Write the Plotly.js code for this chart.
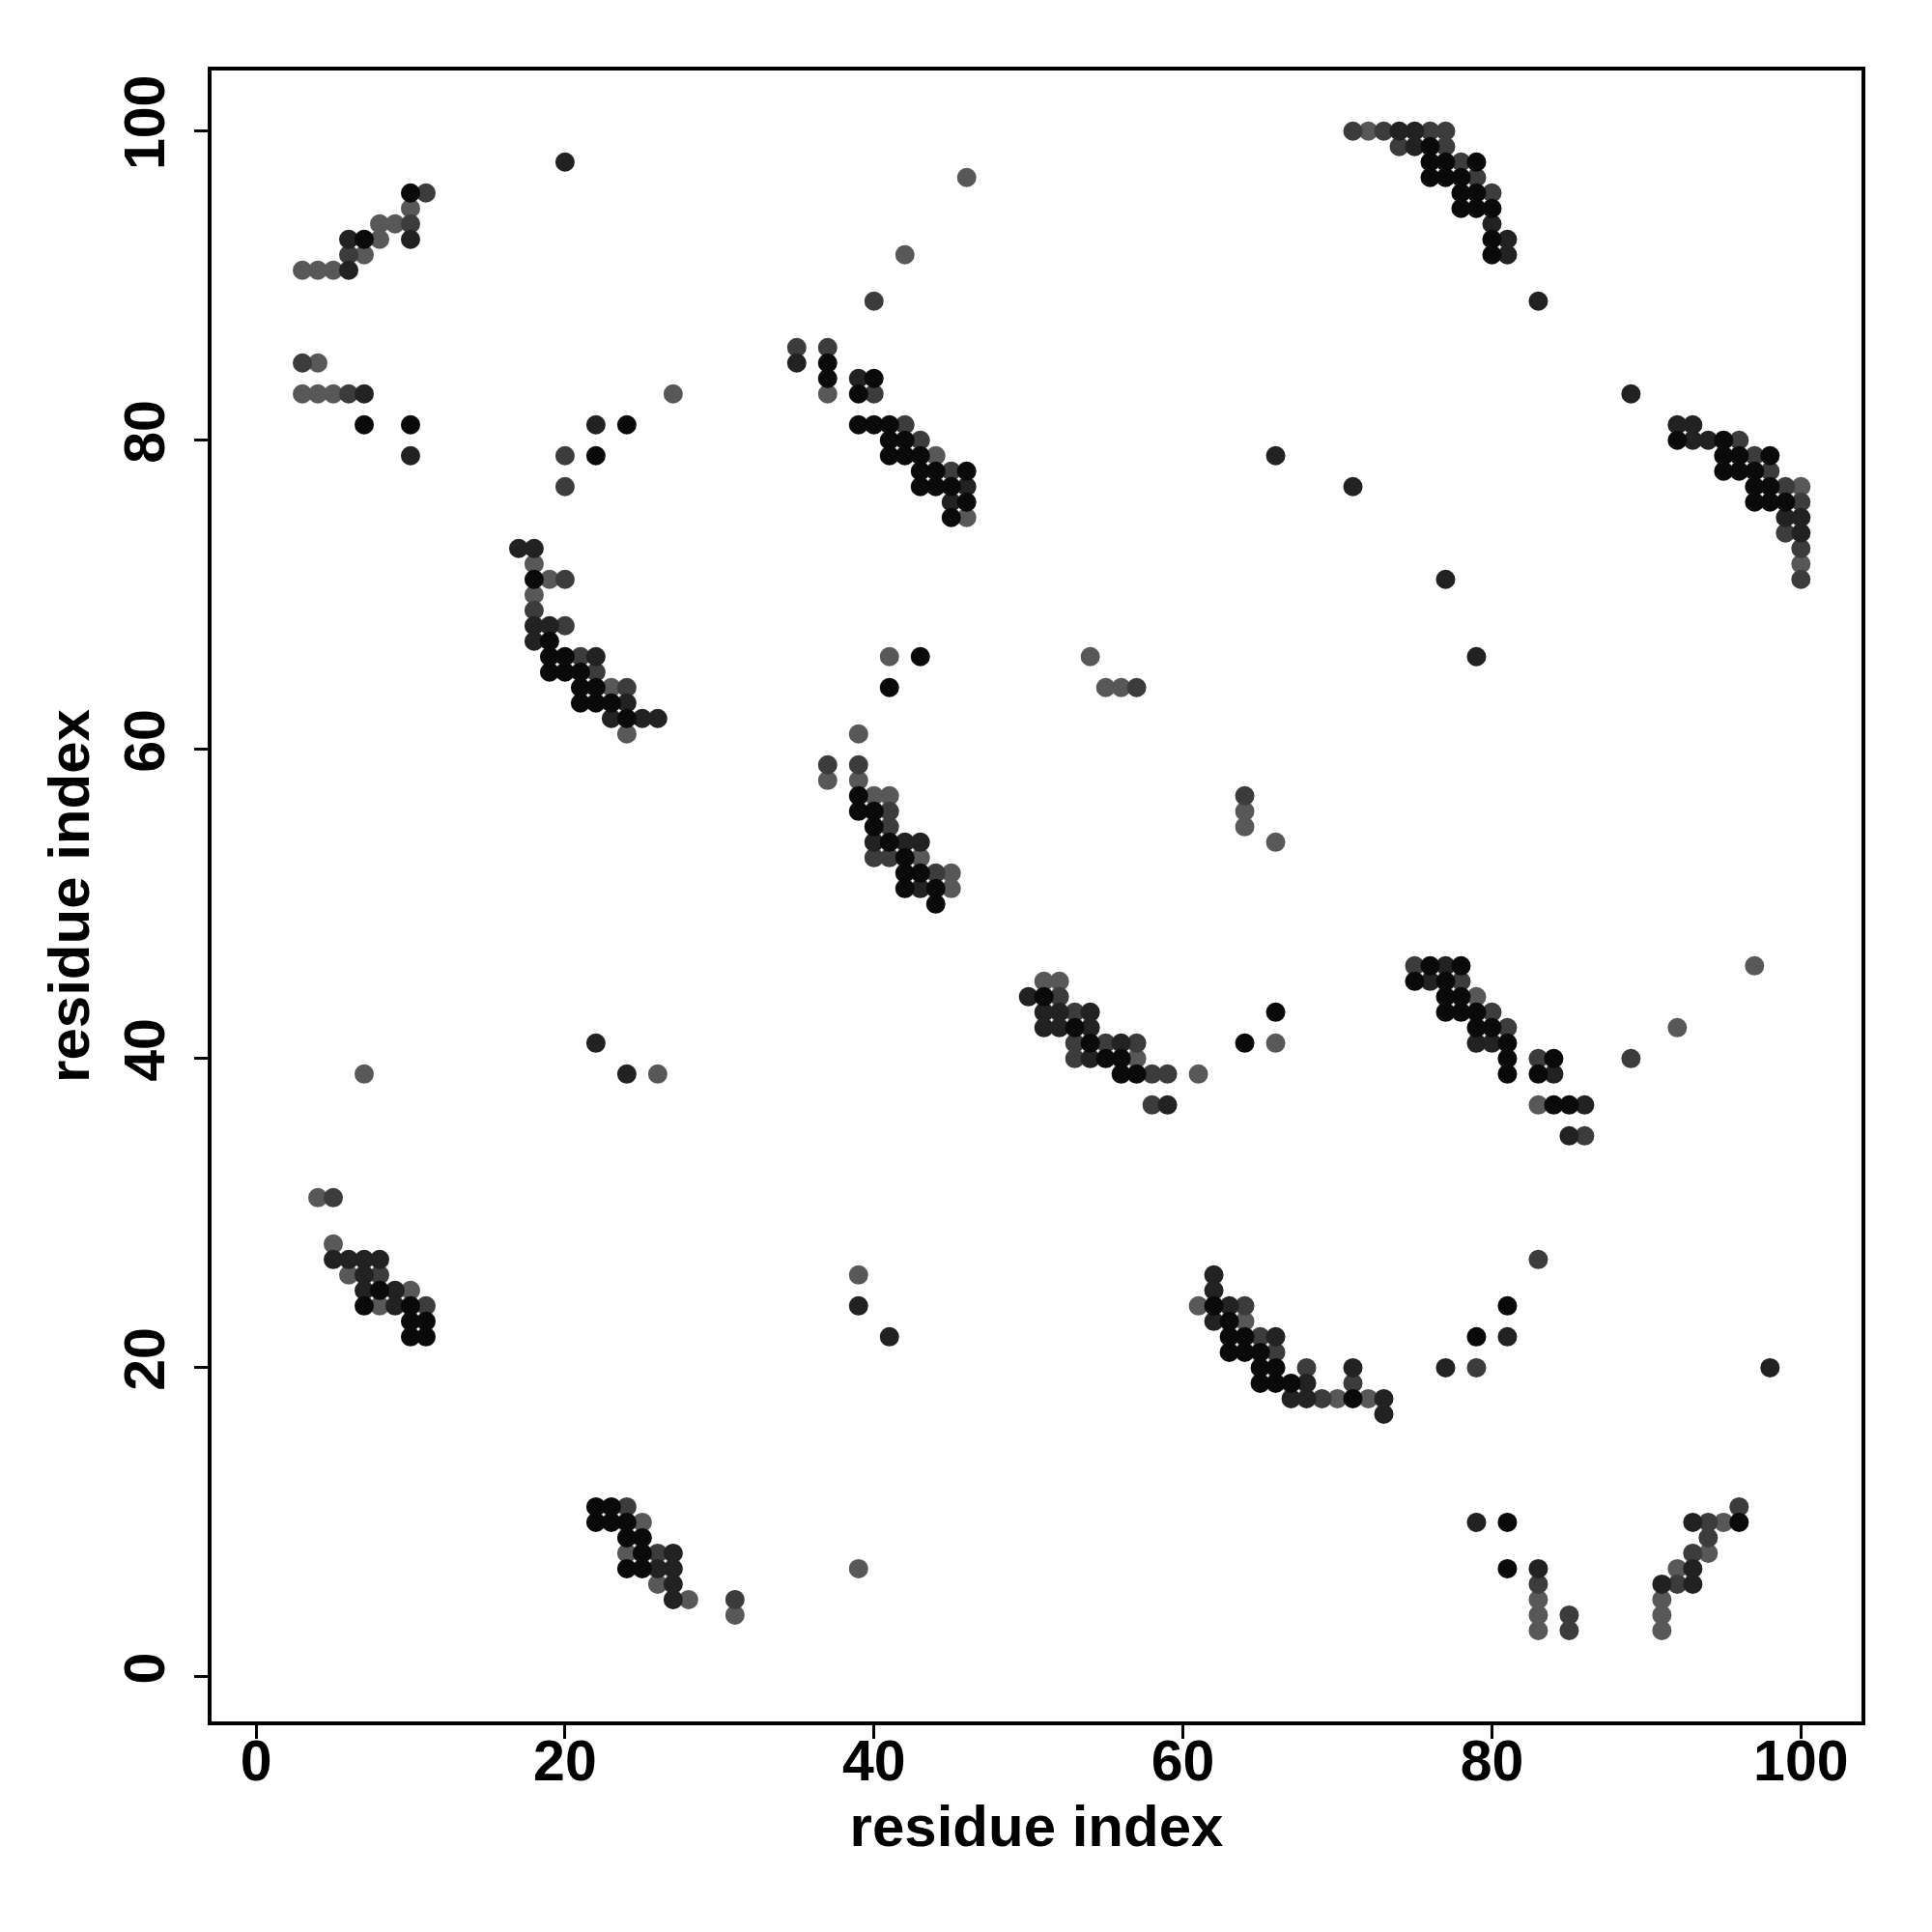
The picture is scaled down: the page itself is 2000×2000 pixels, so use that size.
<!DOCTYPE html>
<html>
<head>
<meta charset="utf-8">
<script src="https://cdn.plot.ly/plotly-3.0.1.min.js"></script>
<style>html,body{margin:0;padding:0;background:#fff;}#chart{width:2000px;height:2000px;}</style>
</head>
<body>
<div id="chart"></div>
<script>
// Contacts grouped by shade (residue i, residue j)
const blackX = [10,7,7,10, 24,22,18,19,19,20,19,20,21,21,22,21,22,23,24, 37,37,40,39,39,40,41,41,42,41,42,43,43,44,46,43,44,45,46,45, 43,41,39,39,40,40,41,42,42,43,42,44,44, 51,53,54,55,56,56,57,66,64, 76,76,77,79,76,77,78,78,79,78,79,80,80,80, 92,95,95,96,98,95,96,97,97,98,97,98,99, 76,78,75,77,77,78,77,78,79,79,80,81,81,84,81,83,84,85, 8,7,10,10,11,10,11, 22,23,22,23,24,24,25,25,24,25, 62,63,63,64,63,64,65,65,66,65,66,67,71, 81,79,81,96,81];
const blackY = [96,93,81,81, 81,79,71,67,66,66,65,65,65,64,64,63,63,63,62, 85,84,84,83,81,81,81,80,80,79,79,79,78,78,78,77,77,77,76,75, 66,64,57,56,56,55,54,53,52,52,51,51,50, 44,42,41,40,40,39,39,43,41, 99,98,98,98,97,97,97,96,96,95,95,95,93,92, 80,80,79,79,79,78,78,78,77,77,76,76,76, 46,46,45,45,44,44,43,43,43,42,42,41,40,40,39,39,37,37, 25,24,24,23,23,22,22, 11,11,10,10,10,9,9,8,7,7, 24,23,22,22,21,21,21,20,20,19,19,19,18, 24,22,10,10,7];

const darkX = [6,10,6,7,10, 20,22,17,18,18,19,18,22,24,23,25,26, 35,39,46,45, 40,42,43,43, 50,51,52,54,51,52,54,56,54,59, 74,75,75,80,81,81,83, 89,92,93,93,94,99,100,100, 66,71,77,79, 77,76,79,80,84,86,85, 22,24,5,6,7,8,7,7,9,9, 39,41,27,26,27,27,27, 62,62,63,62,66,71,68,67,68,73,73, 81,77,98,79,93,83,93,91,93];
const darkY = [93,93,91,83,79, 98,81,73,73,68,68,67,66,63,62,62,62, 85,84,77,76, 54,54,54,51, 44,43,43,43,42,42,42,41,40,37, 100,100,99,94,93,92,89, 83,81,81,80,80,75,75,74, 79,77,71,66, 46,45,41,41,39,37,35, 41,39,27,27,27,27,26,25,25,24, 24,22,8,7,7,6,5, 26,25,24,23,22,20,19,18,18,18,17, 22,20,20,10,10,7,7,6,6];

const midX = [11,10,6,3,6, 20,20,20,18,20,21,22,24, 40,35,37,40,42,43,45, 37,39,41,41,40,41,44, 57,64,52,53,53,55,57,53,58,59,58, 71,73,76,77,74,77,78,79,80, 96,97,98,99,100,99,100,100, 75,78,80,81,83,89,86, 5,8,11, 24,26,31, 64,65,66,68,71,69, 83,79,96,94,94,93,83,92,85,85];
const midY = [96,94,92,85,83, 79,77,71,69,68,66,65,64, 89,86,86,83,81,80,78, 59,59,56,55,53,53,52, 64,57,44,43,41,41,41,40,39,39,37, 100,100,100,100,99,99,98,97,96, 80,79,78,77,76,74,73,71, 46,45,43,42,40,40,35, 31,26,24, 11,8,5, 24,22,21,20,19,18, 27,20,11,10,9,8,6,6,4,3];

const greyX = [10,8,9,8,7,3,4,5,4,3,4,5, 27,18,19,18,23,24, 46,42,37,44,46, 41,39,37,39,40,41,43,45,45, 54,55,56,64,64,66,51,52,57,61,66, 72, 100,100, 97,79,92,83, 26,7,4,5,6,10,8, 39,39,25,24,26,28,31, 61,64,70,72, 95,94,92,83,91,83,91,83,91];
const greyY = [95,94,94,93,92,91,91,91,85,83,83,83, 83,72,71,70,64,61, 97,92,83,79,75, 66,61,58,58,57,57,53,52,51, 66,64,64,56,55,54,45,45,40,39,41, 100, 77,72, 46,44,42,37, 39,39,31,28,26,25,24, 26,7,10,8,6,5,4, 24,23,18,18, 10,8,7,5,5,4,4,3,3];

const tickVals = [0,20,40,60,80,100];
const tickText = ["0","20","40","60","80","100"];
const axisLabel = "residue index";

const shades = [
  {x: greyX, y: greyY, c: '#585858'},
  {x: midX, y: midY, c: '#3c3c3c'},
  {x: darkX, y: darkY, c: '#222222'},
  {x: blackX, y: blackY, c: '#0a0a0a'}
];

const traces = shades.map(s => ({
  type: 'scatter', mode: 'markers', x: s.x, y: s.y,
  marker: {size: 20, color: s.c, line: {width: 0}},
  hoverinfo: 'skip', showlegend: false
}));

const tickFont = {family: 'Liberation Sans, Arial, sans-serif', size: 59, color: '#000', weight: 'bold'};
const titleFont = {family: 'Liberation Sans, Arial, sans-serif', size: 60, color: '#000', weight: 'bold'};

const axisCommon = {
  range: [-2.88, 103.92], autorange: false, fixedrange: true,
  tickvals: tickVals, ticktext: tickText,
  showgrid: false, zeroline: false,
  showline: true, mirror: true, linecolor: '#000', linewidth: 4,
  ticks: 'outside', ticklen: 14, tickwidth: 3, tickcolor: '#000',
  tickfont: tickFont
};

const layout = {
  width: 2000, height: 2000,
  margin: {l: 219, r: 73, t: 73, b: 218},
  paper_bgcolor: '#fff', plot_bgcolor: '#fff',
  font: tickFont,
  xaxis: Object.assign({}, axisCommon, {
    ticklabelstandoff: -28,
    title: {text: axisLabel, font: titleFont, standoff: 15}
  }),
  yaxis: Object.assign({}, axisCommon, {
    tickangle: -90,
    ticklabelstandoff: 7,
    title: {text: axisLabel, font: titleFont, standoff: 6}
  })
};

Plotly.newPlot('chart', traces, layout, {staticPlot: true});
</script>
</body>
</html>
